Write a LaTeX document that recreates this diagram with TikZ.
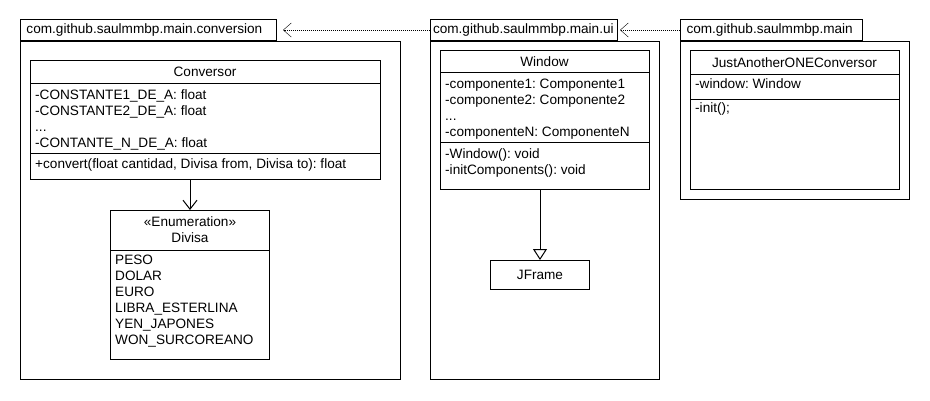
\documentclass[tikz,border=0pt]{standalone}
\usepackage{fontspec}
\setmainfont{Liberation Sans}
\usepackage{tikz}
\usetikzlibrary{arrows.meta,shapes}
\frenchspacing
\newcommand{\umlfont}{\fontsize{13.6}{16}\selectfont}
\tikzstyle{pkgtab}=[draw,line width=1pt,anchor=south west,minimum height=21pt,inner xsep=6pt,inner ysep=0pt,align=left,font=\umlfont]
\tikzstyle{box}=[draw,line width=1pt,anchor=north west,inner sep=0pt]
\tikzstyle{cname}=[inner sep=0pt,font=\umlfont,align=center]
\tikzstyle{members}=[anchor=north west,inner sep=0pt,font=\umlfont,align=left]
\tikzstyle{sep}=[draw,line width=1pt]
\tikzstyle{dep}=[draw,dash pattern=on 1pt off 1pt,-{Straight Barb[length=8pt,width=14pt]}]
\tikzstyle{assoc}=[draw,line width=1pt,-{Straight Barb[length=9pt,width=14pt]}]
\tikzstyle{inherit}=[draw,line width=1pt,-{Triangle[open,length=11pt,width=14pt]}]

\begin{document}
\begin{tikzpicture}[x=1pt,y=-1pt]
        \useasboundingbox (0,0) rectangle (930,400);
        % packages
        \node[pkgtab,text width=244pt] (convtab) at (20,41) {com.github.saulmmbp.main.conversion};
        \node[box,minimum width=380pt,minimum height=338pt] (convpkg) at (20,41) {};
        \node[pkgtab,text width=182pt,inner xsep=2.5pt] (uitab) at (430,41) {com.github.saulmmbp.main.ui};
        \node[box,minimum width=229pt,minimum height=338pt] (uipkg) at (430,41) {};
        \node[pkgtab,text width=170pt] (maintab) at (680,41) {com.github.saulmmbp.main};
        \node[box,minimum width=229pt,minimum height=158pt] (mainpkg) at (680,41) {};
        % Conversor
        \node[box,minimum width=350pt,minimum height=119pt] (conversor) at (30,60) {};
        \node[cname] (conversorname) at (205,72) {Conversor};
        \draw[sep] (30,83) -- (380,83);
        \draw[sep] (30,153) -- (380,153);
        \node[members] (conversorattr) at (35,89) {-CONSTANTE1\_DE\_A: float\\-CONSTANTE2\_DE\_A: float\\...\\-CONTANTE\_N\_DE\_A: float};
        \node[members] (conversorops) at (35,158) {+convert(float cantidad, Divisa from, Divisa to): float};
        % Divisa
        \node[box,minimum width=159pt,minimum height=149pt] (divisa) at (110,210) {};
        \node[cname] (divisaname) at (190,230) {«Enumeration»\\Divisa};
        \draw[sep] (110,250) -- (269,250);
        \node[members] (divisaattr) at (115,255) {PESO\\DOLAR\\EURO\\LIBRA\_ESTERLINA\\YEN\_JAPONES\\WON\_SURCOREANO};
        % Window
        \node[box,minimum width=209pt,minimum height=139pt] (window) at (440,50) {};
        \node[cname] (windowname) at (544.5,62) {Window};
        \draw[sep] (440,72) -- (649,72);
        \draw[sep] (440,142) -- (649,142);
        \node[members] (windowattr) at (445,79) {-componente1: Componente1\\-componente2: Componente2\\...\\-componenteN: ComponenteN};
        \node[members] (windowops) at (445,148) {-Window(): void\\-initComponents(): void};
        % JFrame
        \node[box,minimum width=99pt,minimum height=29pt] (jframe) at (490,260) {};
        \node[cname] (jframename) at (jframe.center) {JFrame};
        % JustAnotherONEConversor
        \node[box,minimum width=209pt,minimum height=139pt] (jaoc) at (690,50) {};
        \node[cname] (jaocname) at (794.5,63) {JustAnotherONEConversor};
        \draw[sep] (690,74) -- (899,74);
        \draw[sep] (690,99) -- (899,99);
        \node[members] (jaocattr) at (695,78) {-window: Window};
        \node[members] (jaocops) at (695,102) {-init();};
        % relations
        \draw[dep,shorten >=6pt] (uitab.west) -- (convtab.east);
        \draw[dep,shorten >=2pt] (maintab.west) -- (uitab.east);
        \draw[assoc] (conversor.south -| divisa.north) -- (divisa.north);
        \draw[inherit] (window.south -| jframe.north) -- (jframe.north);
      \end{tikzpicture}
\end{document}
